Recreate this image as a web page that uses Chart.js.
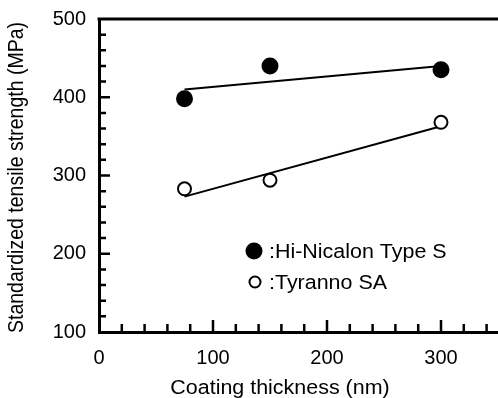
<!DOCTYPE html>
<html>
<head>
<meta charset="utf-8">
<script src="https://cdn.jsdelivr.net/npm/chart.js@4/dist/chart.umd.min.js"></script>
<style>
  html, body { margin: 0; padding: 0; background: #fff; }
  #wrap { width: 498px; height: 398px; }
</style>
</head>
<body>
<div id="wrap"><canvas id="graph" width="498" height="398"></canvas></div>
<script>
// values
const thickness = [75, 150, 300];
const hiNicalon = [398, 440, 435];
const tyranno = [283, 294, 368];

// end points of the two fitted lines
const fitThickness = [75, 300];
const hiNicalonFit = [410, 440];
const tyrannoFit = [273, 363];

const xTickLabels = [0, 100, 200, 300];
const yTickLabels = [100, 200, 300, 400, 500];
const xMinorStep = 20;
const yMinorStep = 20;

const seriesNames = ['Hi-Nicalon Type S', 'Tyranno SA'];
const xTitle = 'Coating thickness (nm)';
const yTitle = 'Standardized tensile strength (MPa)';

const FONT = '"Liberation Sans", Arial, sans-serif';
const STRETCH = 1.1; // text in the figure is a bit wider than plain Arial

function toPoints(xs, ys) {
  return xs.map((x, i) => ({ x: x, y: ys[i] }));
}

function wideText(ctx, text, x, y) {
  ctx.save();
  ctx.translate(x, y);
  ctx.scale(STRETCH, 1);
  ctx.fillText(text, 0, 0);
  ctx.restore();
}

// top frame line, inward ticks, titles and the in-plot legend
const framePlugin = {
  id: 'frame',
  afterDraw(chart) {
    const ctx = chart.ctx;
    const a = chart.chartArea;
    const xs = chart.scales.x;
    const ys = chart.scales.y;
    ctx.save();
    ctx.strokeStyle = '#000';
    ctx.fillStyle = '#000';

    ctx.lineWidth = 3;
    ctx.beginPath();
    ctx.moveTo(a.left - 1.5, a.top);
    ctx.lineTo(a.right, a.top);
    ctx.stroke();

    ctx.lineWidth = 2.5;
    ctx.beginPath();
    for (let v = xs.min + xMinorStep; v < xs.max; v += xMinorStep) {
      const px = xs.getPixelForValue(v);
      const len = v % 100 === 0 ? 12 : 8;
      ctx.moveTo(px, a.bottom);
      ctx.lineTo(px, a.bottom - len);
    }
    for (let v = ys.min + yMinorStep; v < ys.max; v += yMinorStep) {
      const py = ys.getPixelForValue(v);
      const len = v % 100 === 0 ? 11 : 7;
      ctx.moveTo(a.left, py);
      ctx.lineTo(a.left + len, py);
    }
    ctx.stroke();

    ctx.font = '19.5px ' + FONT;
    ctx.textBaseline = 'alphabetic';

    // x title
    ctx.textAlign = 'center';
    wideText(ctx, xTitle, 280, 394);

    // y title
    ctx.save();
    ctx.translate(23, 177.5);
    ctx.rotate(-Math.PI / 2);
    ctx.scale(1, STRETCH);
    ctx.fillText(yTitle, 0, 0);
    ctx.restore();

    // legend
    ctx.textAlign = 'left';
    ctx.beginPath();
    ctx.arc(254, 251, 8.5, 0, Math.PI * 2);
    ctx.fill();
    wideText(ctx, ':' + seriesNames[0], 269, 258);

    ctx.lineWidth = 2;
    ctx.fillStyle = '#fff';
    ctx.beginPath();
    ctx.arc(255, 282, 5.5, 0, Math.PI * 2);
    ctx.fill();
    ctx.stroke();
    ctx.fillStyle = '#000';
    wideText(ctx, ':' + seriesNames[1], 269, 289);

    ctx.restore();
  }
};

const config = {
  type: 'scatter',
  data: {
    datasets: [
      {
        label: seriesNames[0],
        data: toPoints(thickness, hiNicalon),
        pointRadius: 8.5,
        backgroundColor: '#000',
        borderColor: '#000',
        borderWidth: 0,
        showLine: false
      },
      {
        label: seriesNames[1],
        data: toPoints(thickness, tyranno),
        pointRadius: 6.5,
        backgroundColor: '#fff',
        borderColor: '#000',
        borderWidth: 2,
        showLine: false
      },
      {
        type: 'line',
        label: 'fit 1',
        data: toPoints(fitThickness, hiNicalonFit),
        borderColor: '#000',
        borderWidth: 2,
        pointRadius: 0,
        fill: false
      },
      {
        type: 'line',
        label: 'fit 2',
        data: toPoints(fitThickness, tyrannoFit),
        borderColor: '#000',
        borderWidth: 2,
        pointRadius: 0,
        fill: false
      }
    ]
  },
  options: {
    responsive: false,
    animation: false,
    events: [],
    layout: { autoPadding: false, padding: { top: 19, right: 0, left: 0, bottom: 0 } },
    plugins: {
      legend: { display: false },
      tooltip: { enabled: false }
    },
    scales: {
      x: {
        type: 'linear',
        min: 0,
        max: 350,
        afterBuildTicks: s => { s.ticks = xTickLabels.map(v => ({ value: v })); },
        afterFit: s => {
          s.height = 66;
          s.paddingLeft = 0;
          s.paddingRight = 0;
        },
        grid: { display: false, drawTicks: false },
        border: { display: true, width: 3, color: '#000' },
        ticks: { color: '#000', padding: 14, font: { size: 20, family: FONT } }
      },
      y: {
        type: 'linear',
        min: 100,
        max: 500,
        afterBuildTicks: s => { s.ticks = yTickLabels.map(v => ({ value: v })); },
        afterFit: s => {
          s.width = 99;
          s.paddingTop = 0;
          s.paddingBottom = 0;
        },
        grid: { display: false, drawTicks: false },
        border: { display: true, width: 3, color: '#000' },
        ticks: { color: '#000', padding: 13, font: { size: 20, family: FONT } }
      }
    }
  },
  plugins: [framePlugin]
};

const chart = new Chart(document.getElementById('graph'), config);
</script>
</body>
</html>
